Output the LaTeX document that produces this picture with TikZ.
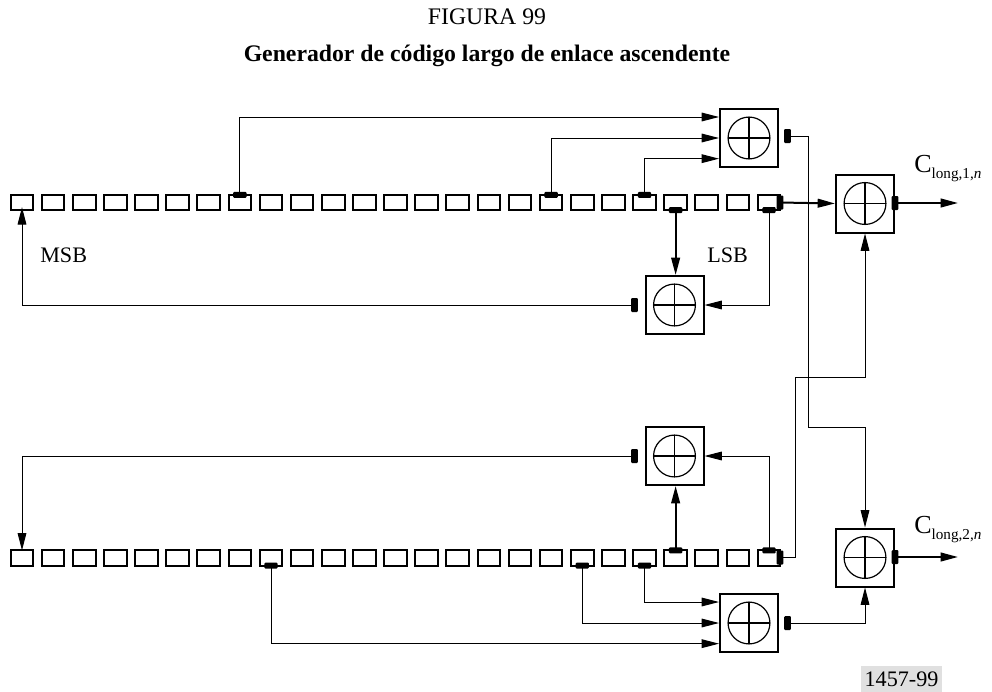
\documentclass[tikz,border=0pt]{standalone}
\usepackage{fontspec}
\setmainfont{Liberation Serif}
\usetikzlibrary{arrows.meta,calc}
\tikzset{
  x=0.75pt,y=-0.75pt,
  cell/.style={draw,line width=1.5pt,rectangle,inner sep=0pt,outer sep=0pt,minimum width=16.9pt,minimum height=11.4pt},
  xorbox/.style={draw,line width=1.5pt,rectangle,inner sep=0pt,outer sep=0.75pt,minimum size=43.5pt,
    path picture={
      \draw[line width=0.9pt] (path picture bounding box.center) circle (15.7pt);
      \draw[line width=0.9pt] ([xshift=-15.7pt]path picture bounding box.center) -- ([xshift=15.7pt]path picture bounding box.center);
      \draw[line width=0.9pt] ([yshift=-15.7pt]path picture bounding box.center) -- ([yshift=15.7pt]path picture bounding box.center);
    }},
  taph/.style={fill=black,rounded corners=0.8pt,inner sep=0pt,outer sep=0pt,minimum width=10pt,minimum height=4.5pt},
  tapv/.style={fill=black,rounded corners=0.8pt,inner sep=0pt,outer sep=0pt,minimum width=5pt,minimum height=10.5pt},
  wire/.style={line width=0.75pt},
  heavy/.style={line width=1.5pt},
  tip/.style={-{Triangle[length=13pt,width=6.5pt]}},
  lab/.style={inner sep=0pt,font=\fontsize{16.6pt}{18pt}\selectfont}
}
\newcommand{\clong}[1]{\fontsize{19.5pt}{20pt}\selectfont C\raisebox{-4.5pt}{\fontsize{11.4pt}{12pt}\selectfont long,#1,\textit{n}}}
\begin{document}
\begin{tikzpicture}
\useasboundingbox (0,0) rectangle (992,692);
% titles
\node[inner sep=0pt,font=\fontsize{17.8pt}{20pt}\selectfont] (ttl) at (487,17) {FIGURA 99};
\node[inner sep=0pt,font=\fontsize{17.8pt}{20pt}\selectfont\bfseries] (sub) at (487,56) {Generador de código largo de enlace ascendente};
% shift registers
\foreach \i in {0,...,24}{
  \node[cell] (a\i) at ({22+31.125*\i},202.5) {};
  \node[cell] (b\i) at ({22+31.125*\i},558) {};
}
% modulo-2 adders
\node[xorbox] (xa) at (749,138) {};
\node[xorbox] (xb) at (865,203.5) {};
\node[xorbox] (xc) at (674.5,305) {};
\node[xorbox] (xd) at (865,557.5) {};
\node[xorbox] (xe) at (674.5,456) {};
\node[xorbox] (xf) at (749,623) {};
% taps on the upper register
\node[taph] (ta7)  at (a7.north) {};
\node[taph] (ta17) at (a17.north) {};
\node[taph] (ta20) at (a20.north) {};
\node[taph] (ta21) at (a21.south) {};
\node[taph] (ta24) at (a24.south) {};
\node[tapv] (ra)   at (780,202.5) {};
\node[tapv] (oa)   at (787.5,136) {};
\node[tapv] (ob)   at (895,203) {};
\node[tapv] (oc)   at (634.5,305) {};
% taps on the lower register
\node[taph] (tb8)  at (b8.south) {};
\node[taph] (tb18) at (b18.south) {};
\node[taph] (tb20) at (b20.south) {};
\node[taph] (tb21) at (b21.north) {};
\node[taph] (tb24) at (b24.north) {};
\node[tapv] (rb)   at (780,557.5) {};
\node[tapv] (oe)   at (634.5,456) {};
\node[tapv] (od)   at (895,557) {};
\node[tapv] (of)   at (787.5,623) {};
% free ends and bends
\coordinate (ja) at (808,427);
\coordinate (jb) at (795,377);
\coordinate (outa) at (958,203);
\coordinate (outb) at (958,557);
% upper connectors
\draw[wire,tip] (ta7.center) |- ([yshift=15.75pt]xa.west);
\draw[wire,tip] (ta17.center) |- (xa.west);
\draw[wire,tip] (ta20.center) |- ([yshift=-15.5pt]xa.west);
\draw[heavy,tip] (ra.center) -- (xb.west);
\draw[heavy,tip] (ob.center) -- (outa);
\draw[heavy,tip] (ta21.center) -- (ta21.center |- xc.north);
\draw[wire,tip] (ta24.center) |- (xc.east);
\draw[wire,tip] (oc.center) -| ([yshift=2.2pt]a0.south);
% lower connectors
\draw[wire,tip] (oe.center) -| (b0.north);
\draw[heavy,tip] (tb21.center) -- (tb21.center |- xe.south);
\draw[wire,tip] (tb24.center) |- (xe.east);
\draw[wire,tip] (tb20.center) |- ([yshift=15.75pt]xf.west);
\draw[wire,tip] (tb18.center) |- (xf.west);
\draw[wire,tip] (tb8.center) |- ([yshift=-15.5pt]xf.west);
\draw[heavy,tip] (od.center) -- (outb);
\draw[wire,tip] (of.center) -| (xd.south);
% crossing connectors
\draw[wire,tip] (oa.center) -| (ja) -| (xd.north);
\draw[wire,tip] (rb.center) -| (jb) -| (xb.south);
% labels
\node[lab,anchor=west] (msb) at (40,255) {MSB};
\node[lab,anchor=west] (lsb) at (707,255) {LSB};
\node[inner sep=0pt,anchor=base west] (c1) at (914,172) {\clong{1}};
\node[inner sep=0pt,anchor=base west] (c2) at (914,533) {\clong{2}};
\node[lab,fill=black!12,minimum width=60.5pt,minimum height=19pt] (num) at (901.5,679) {1457-99};
\end{tikzpicture}
\end{document}
